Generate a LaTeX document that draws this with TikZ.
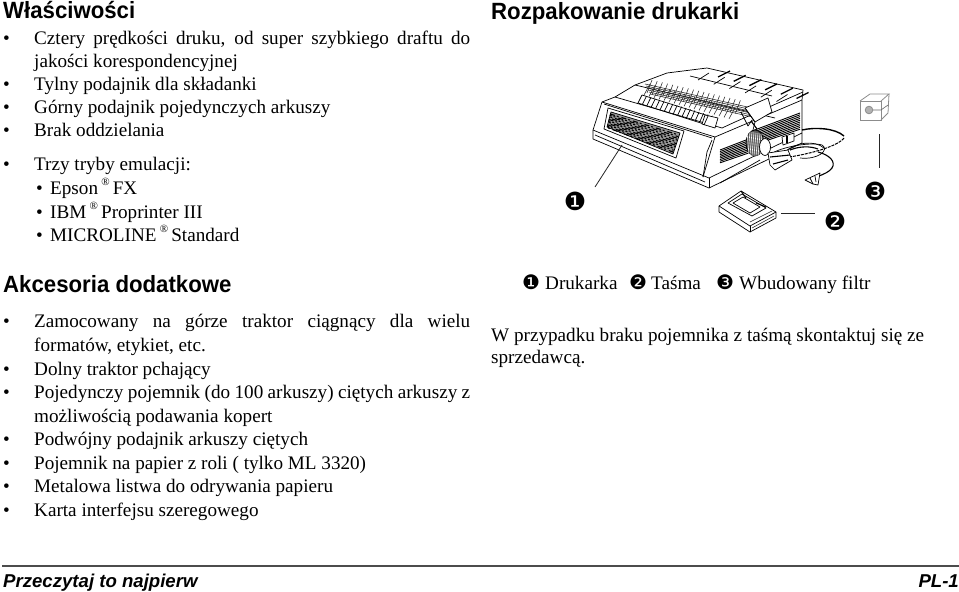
\documentclass[tikz,border=0pt]{standalone}
\usepackage{fontspec}
\setmainfont{Liberation Serif}
\newfontfamily\headfont[FakeStretch=0.945]{Liberation Sans}
\newfontfamily\footfont{Liberation Sans}
\newfontfamily\dingfont{DejaVu Sans}
\newcommand{\reg}{\,\raisebox{0.42em}{\fontsize{11}{11}\selectfont ®}\,}
\newcommand{\just}[2]{\makebox[#1pt][s]{#2}}
\tikzset{
  line/.style={anchor=base west, inner sep=0pt, font=\fontsize{19.15}{21}\selectfont},
  bullet/.style={anchor=base west, inner sep=0pt, font=\fontsize{19.15}{21}\selectfont},
  head/.style={anchor=base west, inner sep=0pt, font=\headfont\bfseries\fontsize{23.5}{26}\selectfont},
  foot/.style={inner sep=0pt, font=\footfont\bfseries\itshape\fontsize{18.6}{20}\selectfont},
  num/.style={inner sep=0pt, font=\dingfont\fontsize{25}{28}\selectfont},
  small num/.style={anchor=base west, inner sep=0pt, font=\dingfont\fontsize{20}{22}\selectfont},
  leader/.style={draw=black!85, line width=0.8pt},
  ink/.style={draw=black, line width=0.7pt, line join=round},
  fine/.style={draw=black!85, line width=0.55pt},
  grate/.style={black, line width=0.9pt}
}
\begin{document}
\begin{tikzpicture}[x=1pt, y=-1pt]
\useasboundingbox (0,0) rectangle (959,592);

\node[head] (H1) at (3,18) {Właściwości};
\node[line] (L1) at (34,44) {\just{436}{Cztery prędkości druku, od super szybkiego draftu do}};
\node[line] (L2) at (34,67) {jakości korespondencyjnej};
\node[line] (L3) at (34,90) {Tylny podajnik dla składanki};
\node[line] (L4) at (34,113) {Górny podajnik pojedynczych arkuszy};
\node[line] (L5) at (34,136) {Brak oddzielania};
\node[line] (L6) at (34,170) {Trzy tryby emulacji:};
\node[line] (L7) at (50,194) {Epson\reg{}FX};
\node[line] (L8) at (50,218) {IBM\reg{}Proprinter III};
\node[line] (L9) at (50,241) {MICROLINE\reg{}Standard};
\node[bullet] (B1) at (3,44) {•};
\node[bullet] (B3) at (3,90) {•};
\node[bullet] (B4) at (3,113) {•};
\node[bullet] (B5) at (3,136) {•};
\node[bullet] (B6) at (3,170) {•};
\node[bullet] (B7) at (36,194) {•};
\node[bullet] (B8) at (36,218) {•};
\node[bullet] (B9) at (36,241) {•};

\node[head] (H2) at (3,292) {Akcesoria dodatkowe};
\node[line] (A1) at (34,327) {\just{436}{Zamocowany na górze traktor ciągnący dla wielu}};
\node[line] (A2) at (34,351) {formatów, etykiet, etc.};
\node[line] (A3) at (34,375) {Dolny traktor pchający};
\node[line] (A4) at (34,398) {\just{436}{Pojedynczy pojemnik (do 100 arkuszy) ciętych arkuszy z}};
\node[line] (A5) at (34,422) {możliwością podawania kopert};
\node[line] (A6) at (34,445) {Podwójny podajnik arkuszy ciętych};
\node[line] (A7) at (34,469) {Pojemnik na papier z roli ( tylko ML 3320)};
\node[line] (A8) at (34,492) {Metalowa listwa do odrywania papieru};
\node[line] (A9) at (34,516) {Karta interfejsu szeregowego};
\node[bullet] (C1) at (3,327) {•};
\node[bullet] (C3) at (3,375) {•};
\node[bullet] (C4) at (3,398) {•};
\node[bullet] (C6) at (3,445) {•};
\node[bullet] (C7) at (3,469) {•};
\node[bullet] (C8) at (3,492) {•};
\node[bullet] (C9) at (3,516) {•};

\node[head] (H3) at (491,19) {Rozpakowanie drukarki};

% printer body
\draw[ink, fill=white] (593,130) -- (602,102) -- (615,97) -- (635,85) -- (667,73) -- (707,68) -- (803,90) -- (802,100) -- (802,143) -- (709,188) -- (593,139) -- cycle;
\draw[ink] (593,130) -- (709,178) -- (802,133);
\draw[ink] (602,102) -- (715,137) -- (703,177);
\draw[ink] (715,137) -- (802,100);
\draw[ink] (709,178) -- (709,188);
\draw[ink] (720,183) -- (760,160);
\draw[ink] (615,97) -- (722,128);
\draw[ink] (722,128) -- (735,122) -- (803,92);
\draw[ink] (635,85) -- (775,118);
\draw[ink] (604,104) -- (712,138);
\draw[ink] (595,135) -- (705,182);
% paper guides
\foreach \i in {0,...,5} {
  \draw[black, line width=1.3pt] ({718+\i*15.7},{77+\i*4.3}) -- ({730+\i*15.7},{71+\i*4.3});
  \draw[ink] ({709+\i*15.7},{73+\i*4.3}) -- ({698+\i*15.7},{80+\i*4.3});
}
\draw[ink] (690,76) -- (772,96);
% platen and paper bail
\foreach \i in {0,...,17} {
  \draw[fine] ({652+\i*5.2},{80+\i*1.2}) -- ({647+\i*5.2},{93+\i*1.2});
  \draw[fine] ({650+\i*5},{84+\i*1.4}) -- ({644+\i*5},{95+\i*1.4});
}
\foreach \i in {0,...,5} {
  \draw[fine] ({645+\i*1},{84+\i*2}) -- ({752+\i*1},{108+\i*2});
}
% key row
\foreach \i in {0,...,16} {
  \draw[ink] ({642+\i*4.4},{95+\i*1.3}) -- ({638+\i*4.4},{103+\i*1.37});
}
\draw[ink] (642,95) -- (712,117);
\draw[ink] (638,103) -- (707,125);
\draw[ink, fill=white] (705,115) -- (718,118) -- (715,128) -- (702,124) -- cycle;
\draw[ink] (708,116) -- (704,125);
% carriage block
\draw[ink, fill=white] (745,108) -- (768,98) -- (772,112) -- (755,122) -- cycle;
\draw[ink] (745,108) -- (755,122) -- (753,130) (741,112) -- (748,126) -- (752,120);
\draw[black, line width=1.1pt] (751,121) -- (757,129);
% front panel
\draw[ink, fill=black!40] (611,112) -- (680,133) -- (673,154) -- (607,127) -- cycle;
\foreach \i in {0,...,10} {
  \draw[black, line width=1.1pt, dash pattern=on 5pt off 2pt on 2pt off 3pt, dash phase=\i*3pt] ({610-\i*0.3},{114+\i*1.35}) -- ({679-\i*0.6},{135+\i*1.7});
}
\draw[ink] (608,108) -- (684,131) -- (676,158) -- (604,129) -- cycle;
\draw[ink] (703,177) -- (707,152) -- (712,140);
% side vents
\foreach \i in {0,...,9} {
  \draw[grate] ({752+\i*1.8},{131+\i*1}) -- (800,{113+\i*1.8});
}
\foreach \i in {0,...,8} {
  \draw[grate] (720,{150+\i*1.6}) -- ({746+\i*0.7},{140+\i*1.5});
}
% platen knob
\draw[ink, fill=black!65] (755,143) ellipse [x radius=9, y radius=13];
\foreach \i in {0,...,7} {
  \draw[white, line width=0.6pt] ({747+\i*2},{131+\i*0.4}) -- ({749+\i*2},{155+\i*0.4});
}
\draw[ink, fill=white] (765,147) ellipse [x radius=5.5, y radius=8.5];
\draw[ink, fill=white] (782,137) -- (794,133) -- (794,141) -- (783,145) -- cycle;
\draw[black, line width=1.6pt] (787,136) -- (787,143);
% cord and plug
\draw[black, line width=1.4pt] (802,130) .. controls (815,127) and (835,128) .. (844,136);
\draw[black, line width=1pt, dash pattern=on 3pt off 1pt] (844,138) .. controls (838,146) and (810,155) .. (775,159);
\draw[ink] (769,155) .. controls (782,146) and (812,142) .. (822,145) .. controls (830,150) and (818,160) .. (800,158);
\draw[ink] (785,152) .. controls (795,142) and (815,140) .. (824,148);
\draw[black, line width=1.1pt] (790,150) .. controls (800,146) and (810,146) .. (818,149);
\draw[ink, fill=white] (768,153) -- (788,150) -- (792,160) -- (775,170) -- (770,165) -- cycle;
\draw[black, line width=1.1pt] (770,157) -- (790,155) (773,164) -- (788,160);
\draw[black, line width=1.1pt] (818,152) .. controls (830,155) and (836,162) .. (832,168) .. controls (829,172) and (824,174) .. (819,176);
\draw[ink, fill=white] (805,180) -- (820,173) -- (818,185) -- (813,184) -- cycle;
\draw[ink] (810,178) -- (813,184) (815,176) -- (816,182);

% ribbon cassette
\draw[ink, fill=white] (719,206) -- (741,191) -- (776,212) -- (750,226) -- cycle;
\draw[ink] (719,206) -- (719,212) -- (750,232) -- (776,218) -- (776,212);
\draw[ink] (750,226) -- (750,232);
\draw[ink] (728,203) -- (742,194) -- (766,208) -- (752,216) -- cycle;
\draw[ink] (733,203) -- (743,197) -- (760,207) -- (750,213) -- cycle;
\draw[black, line width=1pt] (741,191) -- (746,198) (756,203) -- (766,207);
\draw[fine] (750,222) -- (772,211) (752,228) -- (774,216);

% filter cube
\draw[black!45, line width=0.8pt, fill=white] (860,101) -- (881,101) -- (881,120) -- (860,120) -- cycle;
\draw[black!45, line width=0.8pt] (860,101) -- (870,94) -- (889,94) -- (881,101);
\draw[black!45, line width=0.8pt] (889,94) -- (888,113) -- (881,120);
\draw[black!45, line width=0.8pt, fill=black!30] (869,110) circle (3.8);
\draw[black!60, line width=0.6pt] (873,110) -- (881,110) -- (888,105);

\node[num] (N1) at (575,201) {❶};
\node[num] (N2) at (835,221) {❷};
\node[num] (N3) at (875,191) {❸};
\coordinate (P1) at (622,145);
\coordinate (P1a) at (595,187);
\coordinate (P2) at (781,213);
\coordinate (P2a) at (815,213);
\coordinate (P3) at (879,134);
\coordinate (P3a) at (879,168);
\draw[leader] (P1a) -- (P1);
\draw[leader] (P2) -- (P2a);
\draw[leader] (P3) -- (P3a);

\node[small num] (K1) at (522,289) {❶};
\node[line] (T1) at (545,289) {Drukarka};
\node[small num] (K2) at (629,289) {❷};
\node[line] (T2) at (651,289) {Taśma};
\node[small num] (K3) at (716,289) {❸};
\node[line] (T3) at (739,289) {Wbudowany filtr};
\node[line] (R1) at (491,341) {W przypadku braku pojemnika z taśmą skontaktuj się ze};
\node[line] (R2) at (491,363) {sprzedawcą.};

\node[foot, anchor=base west] (F1) at (3,587) {Przeczytaj to najpierw};
\node[foot, anchor=base east] (F2) at (959,587) {PL-1};
\coordinate (E1) at (2,566);
\coordinate (E2) at (959,566);
\draw[black!70, line width=1.3pt] (E1) -- (E2);
\end{tikzpicture}
\end{document}
